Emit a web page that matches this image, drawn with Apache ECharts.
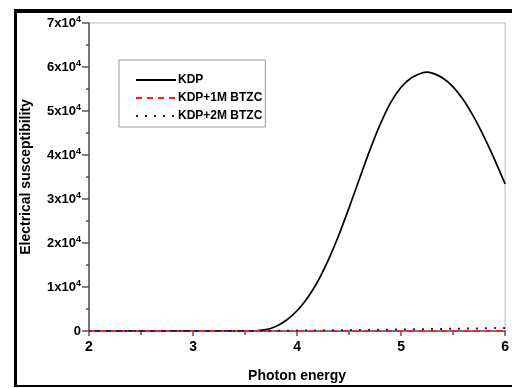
<!DOCTYPE html>
<html>
<head>
<meta charset="utf-8">
<script src="https://cdn.jsdelivr.net/npm/echarts@6/dist/echarts.min.js"></script>
<style>
  html, body { margin: 0; padding: 0; background: #fff; }
  #chart { width: 512px; height: 388px; }
</style>
</head>
<body>
<div id="chart"></div>
<script>
  // photon energy (x), 2.0 .. 6.0 step 0.1 (plus one point at the peak)
  var energy = [2.0, 2.1, 2.2, 2.3, 2.4, 2.5, 2.6, 2.7, 2.8, 2.9,
    3.0, 3.1, 3.2, 3.3, 3.4, 3.5, 3.6, 3.7, 3.8, 3.9,
    4.0, 4.1, 4.2, 4.3, 4.4, 4.5, 4.6, 4.7, 4.8, 4.9,
    5.0, 5.1, 5.2, 5.25, 5.3, 5.4, 5.5, 5.6, 5.7, 5.8, 5.9, 6.0];
  var kdp = [0, 0, 0, 0, 0, 0, 0, 0, 0, 0,
    0, 0, 0, 0, 0, 0, 50, 300, 1100, 2500,
    4600, 7500, 11300, 16100, 21700, 28000, 34600, 41100, 47000, 51900,
    55400, 57550, 58650, 58850, 58600, 57500, 55500, 52500, 48600, 44000, 38900, 33400];
  var kdp1m = [0, 0, 0, 0, 0, 0, 0, 0, 0, 0,
    0, 0, 0, 0, 0, 0, 0, 0, 0, 0,
    0, 0, 0, 0, 0, 0, 0, 0, 0, 0,
    0, 0, 0, 0, 0, 0, 0, 0, 0, 0, 0, 0];
  var kdp2m = [0, 0, 0, 0, 0, 0, 0, 0, 0, 0,
    0, 0, 0, 0, 0, 0, 10, 20, 40, 60,
    90, 110, 130, 150, 170, 200, 220, 250, 280, 310,
    340, 370, 400, 415, 430, 460, 500, 540, 580, 620, 660, 700];

  function pairs(ys) {
    return energy.map(function (x, i) { return [x, ys[i]]; });
  }

  var chart = echarts.init(document.getElementById('chart'));
  var font = 'Liberation Sans, Arial, sans-serif';

  chart.setOption({
    animation: false,
    textStyle: { fontFamily: font },
    grid: {
      left: 89, right: 3, top: 23, bottom: 52,
      show: true, borderColor: '#bbb', borderWidth: 1
    },
    legend: {
      orient: 'vertical',
      left: 119, top: 60,
      padding: [14, 3, 5, 16],
      itemWidth: 40, itemHeight: 14, itemGap: 6,
      borderColor: '#999', borderWidth: 1,
      itemStyle: { opacity: 0 },
      textStyle: { fontWeight: 'bold', fontSize: 12, color: '#000', fontFamily: font, padding: [0, 0, 0, -3] },
      data: ['KDP', 'KDP+1M BTZC', 'KDP+2M BTZC']
    },
    xAxis: {
      type: 'value', min: 2, max: 6, interval: 1,
      name: 'Photon energy', nameLocation: 'middle', nameGap: 38,
      nameTextStyle: { fontWeight: 'bold', fontSize: 14, color: '#000' },
      axisLine: { lineStyle: { color: '#555', width: 1.5 } },
      axisTick: { inside: false, length: 5, lineStyle: { color: '#555', width: 1.5 } },
      minorTick: { show: true, splitNumber: 2, length: 4, lineStyle: { color: '#555', width: 1.5 } },
      axisLabel: { fontWeight: 'bold', fontSize: 14, color: '#000', margin: 9 },
      splitLine: { show: false }
    },
    yAxis: {
      type: 'value', min: 0, max: 70000, interval: 10000,
      name: 'Electrical susceptibility', nameLocation: 'middle', nameGap: 56,
      nameTextStyle: { fontWeight: 'bold', fontSize: 14, color: '#000' },
      axisLine: { show: true, lineStyle: { color: '#555', width: 1.5 } },
      axisTick: { inside: false, length: 7, lineStyle: { color: '#555', width: 1.5 } },
      minorTick: { show: true, splitNumber: 2, length: 3, lineStyle: { color: '#555', width: 1.5 } },
      axisLabel: {
        margin: 8,
        formatter: function (v) {
          if (v === 0) return '{a|0}';
          return '{a|' + (v / 10000) + 'x10}{s|4}';
        },
        rich: {
          a: { fontWeight: 'bold', fontSize: 13, color: '#000', fontFamily: font },
          s: { fontWeight: 'bold', fontSize: 9, color: '#000', fontFamily: font, verticalAlign: 'top', padding: [0, 0, 7, 0] }
        }
      },
      splitLine: { show: false }
    },
    series: [
      {
        name: 'KDP', type: 'line', smooth: 0.3, showSymbol: false, symbol: 'none',
        lineStyle: { color: '#000', width: 1.7 }, itemStyle: { color: '#000' },
        data: pairs(kdp), z: 3
      },
      {
        name: 'KDP+1M BTZC', type: 'line', smooth: 0.3, showSymbol: false, symbol: 'none',
        lineStyle: { color: '#ff2020', width: 2, type: [6, 5] }, itemStyle: { color: '#ff2020' },
        data: pairs(kdp1m), z: 4
      },
      {
        name: 'KDP+2M BTZC', type: 'line', smooth: 0.3, showSymbol: false, symbol: 'none',
        lineStyle: { color: '#1a1aa0', width: 2, type: [2, 7] }, itemStyle: { color: '#1a1aa0' },
        data: pairs(kdp2m), z: 5
      }
    ],
    graphic: [
      { type: 'rect', shape: { x: 14, y: 9, width: 498, height: 4 }, style: { fill: '#000' } },
      { type: 'rect', shape: { x: 14, y: 9, width: 3, height: 378 }, style: { fill: '#000' } },
      { type: 'rect', shape: { x: 14, y: 385, width: 498, height: 2 }, style: { fill: '#000' } }
    ]
  });
</script>
</body>
</html>
